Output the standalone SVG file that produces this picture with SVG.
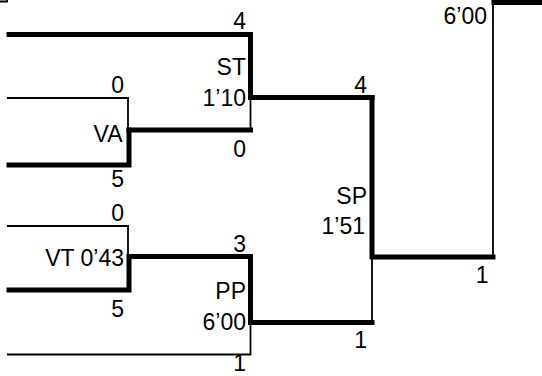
<svg xmlns="http://www.w3.org/2000/svg" width="542" height="376" viewBox="0 0 542 376">
<style>
.thick{fill:none;stroke:#000;stroke-width:5;stroke-linecap:square}
.thin{fill:none;stroke:#000;stroke-width:1.8}
text{font-family:"Liberation Sans",Arial,sans-serif;font-size:23px;fill:#000;text-anchor:end}
</style>
<rect width="542" height="376" fill="#fff"/>
<g id="connectors">
<path class="thin" d="M0,1.5 H7 V0"/>
<path class="thick" d="M9,34.5 H250.5 V97.5 H372"/>
<path class="thin" d="M7,98 H128 V130"/>
<path class="thick" d="M129,130 H250.5"/>
<path class="thin" d="M250.5,97.5 V130"/>
<path class="thick" d="M9,165 H129 V130"/>
<path class="thin" d="M7,226 H128 V256.5"/>
<path class="thick" d="M9,290 H129 V256.5 H250.5 V322.5 H372"/>
<path class="thin" d="M7,354.5 H250.5 V322.5"/>
<path class="thick" d="M372,97.5 V257 H493"/>
<path class="thin" d="M372,257 V322.5"/>
<path class="thin" d="M493,257 V2.5"/>
<path class="thick" d="M494,2.5 H545"/>
</g>
<g id="node-ST">
<text x="246" y="29">4</text>
<text x="246" y="75">ST</text>
<text x="246" y="106">1’10</text>
<text x="246" y="157">0</text>
</g>
<g id="node-VA">
<text x="124" y="92.5">0</text>
<text x="122.5" y="141.5">VA</text>
<text x="124" y="187">5</text>
</g>
<g id="node-VT">
<text x="124" y="221">0</text>
<text x="124" y="266">VT 0’43</text>
<text x="124" y="316.5">5</text>
</g>
<g id="node-PP">
<text x="246" y="251.5">3</text>
<text x="246" y="299">PP</text>
<text x="246" y="330">6’00</text>
<text x="246" y="371">1</text>
</g>
<g id="node-SP">
<text x="367" y="92.5">4</text>
<text x="367" y="204">SP</text>
<text x="365" y="234">1’51</text>
<text x="367" y="347.5">1</text>
</g>
<g id="node-final">
<text x="487" y="24">6’00</text>
<text x="488.5" y="282.5">1</text>
</g>
</svg>
